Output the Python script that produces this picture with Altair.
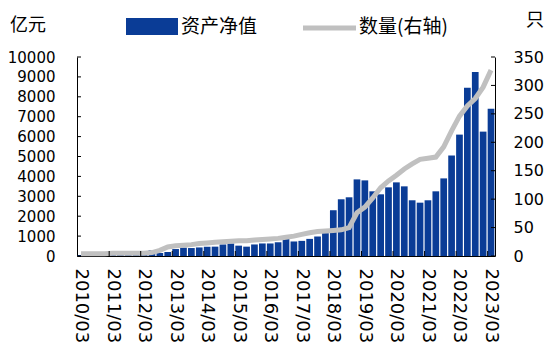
import altair as alt
import pandas as pd

years = list(range(2010, 2024))
months = ["03", "06", "09", "12"]
quarters = [f"{y}/{m}" for y in years for m in months][:53]

net_value = [50, 55, 60, 65, 70, 80, 90, 100, 110, 300,
             150, 200, 350, 420, 400, 430, 470, 470, 580, 630,
             520, 470, 580, 630, 630, 690, 980, 730, 760, 860,
             980, 1150, 2300, 2850, 2950, 3850, 3800, 3250, 3100, 3450,
             3700, 3500, 2800, 2680, 2800, 3250, 3900, 5050, 6100, 8450,
             9250, 6250, 7400]

count = [4, 4, 4, 4, 5, 5, 5, 5, 5, 6,
         10, 16, 18, 19, 20, 22, 23, 24, 25, 26,
         27, 27, 28, 29, 30, 31, 33, 35, 38, 41,
         43, 44, 45, 46, 50, 76, 86, 102, 120, 132,
         142, 153, 162, 170, 172, 174, 192, 220, 246, 264,
         277, 297, 327]

series_names = ["资产净值", "数量(右轴)"]
unit_labels = ["亿元", "只"]
left_ticks = [0, 1000, 2000, 3000, 4000, 5000, 6000, 7000, 8000, 9000, 10000]
right_ticks = [0, 50, 100, 150, 200, 250, 300, 350]
x_label_quarters = quarters[::4]
x_tick_quarters = quarters[4::4]

BLUE = "#0a3c96"
GRAY = "#c0c0c0"
NUM_FONT = "DejaVu Sans"
CJK_FONT = "Noto Sans CJK SC"
W, H = 418, 199

df = pd.DataFrame({"q": quarters, "v": net_value, "n": count})
xscale = alt.Scale(domain=quarters, paddingInner=0.15, paddingOuter=0.08)
xaxis = alt.Axis(values=x_label_quarters, labelAngle=90, labelFontSize=18,
                 labelPadding=12, ticks=False, domainColor="#000",
                 labelOverlap=False, labelBaseline="middle", labelAlign="left")

bars = alt.Chart(df).mark_bar(color=BLUE).encode(
    x=alt.X("q:N", scale=xscale, sort=None, title=None, axis=xaxis),
    y=alt.Y("v:Q", scale=alt.Scale(domain=[0, 10000], nice=False), title=None,
            axis=alt.Axis(values=left_ticks, format="d", ticks=False, grid=False,
                          labelFontSize=15, labelPadding=22, domainColor="#000")),
)

line = alt.Chart(df).mark_line(color=GRAY, strokeWidth=5).encode(
    x=alt.X("q:N", scale=xscale, sort=None, title=None, axis=xaxis),
    y=alt.Y("n:Q", scale=alt.Scale(domain=[0, 350], nice=False), title=None,
            axis=alt.Axis(orient="right", values=right_ticks, format="d", ticks=False,
                          grid=False, labelFontSize=16, labelPadding=18, domainColor="#000")),
)

left_tick_rules = alt.Chart(pd.DataFrame({"t": left_ticks})).mark_rule(color="#000").encode(
    y=alt.Y("t:Q", scale=alt.Scale(domain=[0, 10000], nice=False), axis=None),
    x=alt.value(0), x2=alt.value(4),
)
right_tick_rules = alt.Chart(pd.DataFrame({"t": right_ticks})).mark_rule(color="#000").encode(
    y=alt.Y("t:Q", scale=alt.Scale(domain=[0, 350], nice=False), axis=None),
    x=alt.value(W - 4), x2=alt.value(W),
)
x_tick_rules = alt.Chart(pd.DataFrame({"q": x_tick_quarters})).mark_rule(color="#000").encode(
    x=alt.X("q:N", scale=xscale, sort=None, bandPosition=0, title=None, axis=xaxis),
    y=alt.value(H), y2=alt.value(H - 5),
)

one = alt.Data(values=[{}])
leg_rect = alt.Chart(one).mark_rect(color=BLUE).encode(
    x=alt.value(49), x2=alt.value(101), y=alt.value(-39), y2=alt.value(-22))
leg_text1 = alt.Chart(one).mark_text(align="left", baseline="middle", font=CJK_FONT,
                                      fontSize=19, color="#000").encode(
    x=alt.value(104), y=alt.value(-30), text=alt.value(series_names[0]))
leg_line = alt.Chart(one).mark_rule(color=GRAY, strokeWidth=5).encode(
    x=alt.value(226), x2=alt.value(279), y=alt.value(-29))
leg_text2 = alt.Chart(one).mark_text(align="left", baseline="middle", font=CJK_FONT,
                                      fontSize=19, color="#000").encode(
    x=alt.value(282), y=alt.value(-30), text=alt.value(series_names[1]))
unit_left = alt.Chart(one).mark_text(align="left", baseline="middle", font=CJK_FONT,
                                      fontSize=18, color="#000").encode(
    x=alt.value(-67), y=alt.value(-31), text=alt.value(unit_labels[0]))
unit_right = alt.Chart(one).mark_text(align="left", baseline="middle", font=CJK_FONT,
                                       fontSize=18, color="#000").encode(
    x=alt.value(449), y=alt.value(-36), text=alt.value(unit_labels[1]))

chart = alt.layer(
    bars, line, left_tick_rules, right_tick_rules, x_tick_rules,
    leg_rect, leg_text1, leg_line, leg_text2, unit_left, unit_right,
).resolve_scale(y="independent").properties(
    width=W, height=H,
    padding={"left": 77, "top": 57, "right": 59, "bottom": 96},
    autosize=alt.AutoSizeParams(type="none"),
    background="white",
).configure_view(stroke=None).configure_axis(
    labelFont=NUM_FONT, labelColor="#000", domainWidth=1,
)

chart.save("out.html", embed_options={"renderer": "svg", "actions": False})
